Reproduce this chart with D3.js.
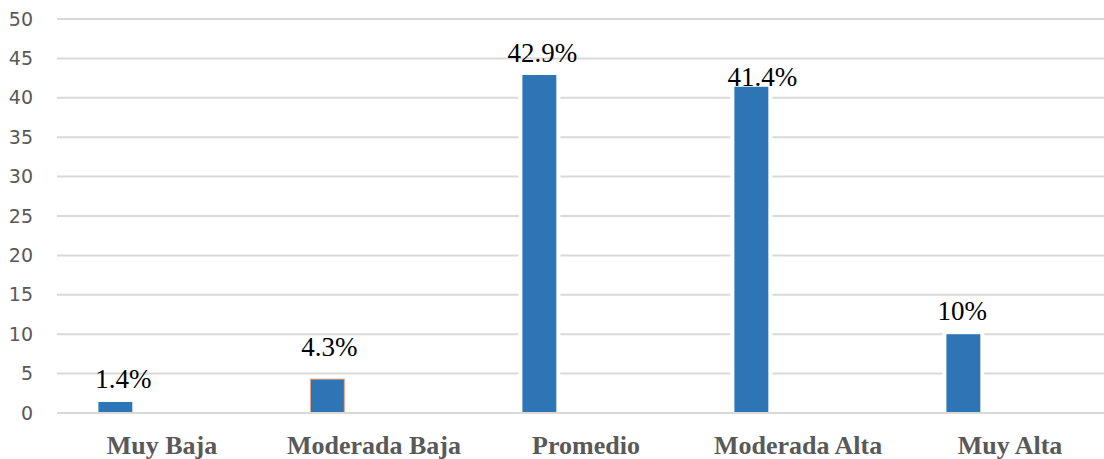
<!DOCTYPE html>
<html>
<head>
<meta charset="utf-8">
<script src="https://cdn.jsdelivr.net/npm/d3@7"></script>
<style>
  html, body { margin: 0; padding: 0; background: #fff; }
  svg { display: block; }
  .val { font-family: "Liberation Serif", "Times New Roman", Times, serif; font-size: 27px; }
  .cat { font-family: "Liberation Serif", "Times New Roman", Times, serif; font-size: 26px; font-weight: bold; }
  .ytick { font-family: "DejaVu Sans", sans-serif; font-size: 19px; }
</style>
</head>
<body>
<svg id="chart" width="1104" height="459"></svg>
<script>
// Categories and percentages
const categories = ["Muy Baja", "Moderada Baja", "Promedio", "Moderada Alta", "Muy Alta"];
const values = [1.4, 4.3, 42.9, 41.4, 10];
const valueLabels = ["1.4%", "4.3%", "42.9%", "41.4%", "10%"];
const yTicks = [0, 5, 10, 15, 20, 25, 30, 35, 40, 45, 50];

// Layout
const width = 1104, height = 459;
const plot = { left: 56, right: 1116, top: 19, bottom: 413 };
const barOffset = 0.2;    // bar start within its band, as a fraction
const barFrac = 0.16;     // bar width as a fraction of the band
const labelShift = { "Muy Baja": [8, 0], "Moderada Baja": [2, -9], "Promedio": [3, 1], "Moderada Alta": [11, 13], "Muy Alta": [-1, 0] };

const svg = d3.select("#chart");

const x = d3.scaleBand().domain(categories).range([plot.left, plot.right]).padding(0);
const y = d3.scaleLinear().domain([0, 50]).range([plot.bottom, plot.top]);

const bw = x.bandwidth() * barFrac;
const bx = c => x(c) + x.bandwidth() * barOffset;

// Horizontal gridlines
svg.append("g")
  .selectAll("line")
  .data(yTicks)
  .join("line")
  .attr("x1", plot.left + 1)
  .attr("x2", width)
  .attr("y1", d => y(d))
  .attr("y2", d => y(d))
  .attr("stroke", "#d9d9d9")
  .attr("stroke-width", 2);

// Y axis labels
const yAxis = d3.axisLeft(y).tickValues(yTicks).tickSize(0).tickPadding(0);
const gy = svg.append("g").attr("transform", "translate(33,0)").call(yAxis)
  .attr("font-family", null).attr("font-size", null);
gy.select(".domain").remove();
gy.selectAll("text")
  .attr("class", "ytick")
  .attr("fill", "#595959");

const data = categories.map((c, i) => ({ c, v: values[i], label: valueLabels[i] }));

// White halo behind each bar
svg.append("g")
  .selectAll("rect")
  .data(data)
  .join("rect")
  .attr("x", d => bx(d.c) - 4)
  .attr("y", d => y(d.v) - 4)
  .attr("width", bw + 8)
  .attr("height", d => y(0) - y(d.v) + 3)
  .attr("fill", "#fff");

// Bars
svg.append("g")
  .selectAll("rect")
  .data(data)
  .join("rect")
  .attr("x", d => bx(d.c))
  .attr("y", d => y(d.v))
  .attr("width", bw)
  .attr("height", d => y(0) - y(d.v))
  .attr("fill", "#2e75b6")
  .attr("stroke", d => d.c === "Moderada Baja" ? "#e8a27a" : "none")
  .attr("stroke-width", 1);

// Baseline over the bars
svg.append("line")
  .attr("x1", plot.left + 1)
  .attr("x2", width)
  .attr("y1", y(0))
  .attr("y2", y(0))
  .attr("stroke", "#d9d9d9")
  .attr("stroke-width", 2);

// Value labels
svg.append("g")
  .selectAll("text")
  .data(data)
  .join("text")
  .attr("class", "val")
  .attr("x", d => bx(d.c) + bw / 2 + labelShift[d.c][0])
  .attr("y", d => y(d.v) - 14 + labelShift[d.c][1])
  .attr("text-anchor", "middle")
  .attr("fill", "#000")
  .text(d => d.label);

// Category labels
const xAxis = d3.axisBottom(x).tickSize(0).tickPadding(0);
const gx = svg.append("g").attr("transform", `translate(0,${plot.bottom})`).call(xAxis)
  .attr("font-family", null).attr("font-size", null);
gx.select(".domain").remove();
gx.selectAll("text")
  .attr("class", "cat")
  .attr("dy", null)
  .attr("y", 41)
  .attr("fill", "#595959");
</script>
</body>
</html>
